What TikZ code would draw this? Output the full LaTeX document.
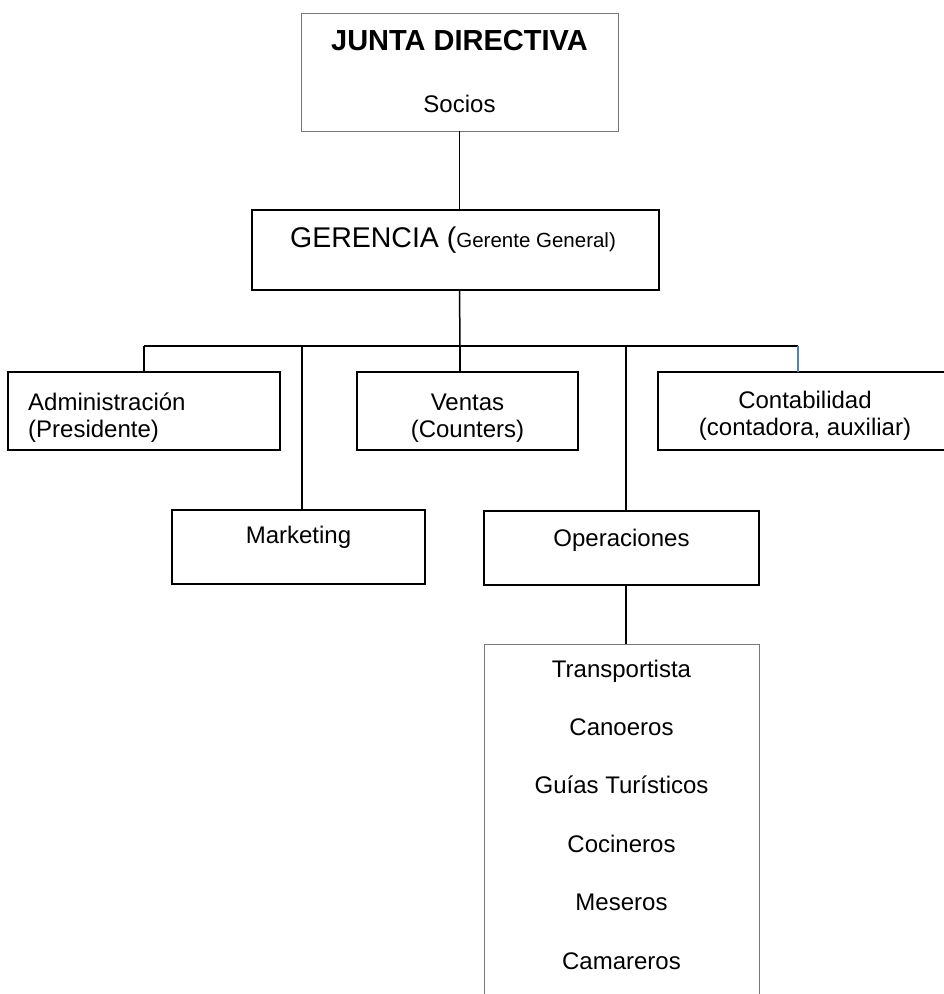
\documentclass[tikz,border=0pt]{standalone}
\usepackage{fontspec}
\setmainfont{Liberation Sans}
\definecolor{framegray}{RGB}{120,120,120}
\definecolor{linkblue}{RGB}{79,129,189}
\begin{document}
\begin{tikzpicture}[x=1pt,y=-1pt,
  box/.style={draw=black,line width=1.5pt,inner sep=0pt,outer sep=0pt,anchor=north west},
  softbox/.style={draw=framegray,line width=1pt,inner sep=0pt,outer sep=0pt,anchor=north west},
  txt/.style={inner sep=0pt,anchor=base,font=\fontsize{24}{28}\selectfont},
  link/.style={draw=black,line width=1.5pt},
  bluelink/.style={draw=linkblue,line width=1.5pt}]
\useasboundingbox (0,0) rectangle (944,994);

% boxes
\node[softbox,minimum width=317pt,minimum height=118pt] (junta) at (301,13) {};
\node[box,minimum width=407pt,minimum height=80pt] (gerencia) at (252,210) {};
\node[box,minimum width=272pt,minimum height=78pt] (admin) at (8,372) {};
\node[box,minimum width=221pt,minimum height=78pt] (ventas) at (357,372) {};
\node[box,minimum width=300pt,minimum height=78pt] (contab) at (658,372) {};
\node[box,minimum width=253pt,minimum height=74pt] (marketing) at (172,510) {};
\node[box,minimum width=275pt,minimum height=74pt] (operaciones) at (484,511) {};
\node[softbox,minimum width=275pt,minimum height=380pt] (personal) at (484,644) {};

% texts
\node[txt,font=\fontsize{29}{33}\selectfont\bfseries] (tJunta) at (459.5,50) {JUNTA DIRECTIVA};
\node[txt] (tSocios) at (459.5,112) {Socios};
\node[txt] (tGerencia) at (453,247) {{\fontsize{28.5}{32}\selectfont GERENCIA (}{\fontsize{20.5}{24}\selectfont Gerente General)}};
\node[txt,anchor=base west] (tAdmin1) at (28,410) {Administración};
\node[txt,anchor=base west] (tAdmin2) at (28,437) {(Presidente)};
\node[txt] (tVentas1) at (467.5,410) {Ventas};
\node[txt] (tVentas2) at (467.5,437) {(Counters)};
\node[txt] (tContab1) at (805,408) {Contabilidad};
\node[txt] (tContab2) at (805,435) {(contadora, auxiliar)};
\node[txt] (tMarketing) at (298.5,543) {Marketing};
\node[txt] (tOperaciones) at (621.5,546) {Operaciones};
\node[txt] (p1) at (621.5,677) {Transportista};
\node[txt] (p2) at (621.5,735.4) {Canoeros};
\node[txt] (p3) at (621.5,793.8) {Guías Turísticos};
\node[txt] (p4) at (621.5,852.2) {Cocineros};
\node[txt] (p5) at (621.5,910.6) {Meseros};
\node[txt] (p6) at (621.5,969) {Camareros};

% bus and drop points
\coordinate (dA) at (144,346);
\coordinate (dM) at (302,346);
\coordinate (dV) at (460,346);
\coordinate (dO) at (626,346);
\coordinate (dC) at (798,346);

% connectors
\draw[link] (junta.south) -- (junta.south |- gerencia.north);
\draw[link] (junta.south |- gerencia.south) -- (dV);
\draw[link] (dA) -- (dC);
\draw[link] (dA) -- (dA |- admin.north);
\draw[link] (dM) -- (dM |- marketing.north);
\draw[link] (dV) -- (dV |- ventas.north);
\draw[link] (dO) -- (dO |- operaciones.north);
\draw[bluelink] (dC) -- (dC |- contab.north);
\draw[link] (dO |- operaciones.south) -- (dO |- personal.north);
\end{tikzpicture}
\end{document}
